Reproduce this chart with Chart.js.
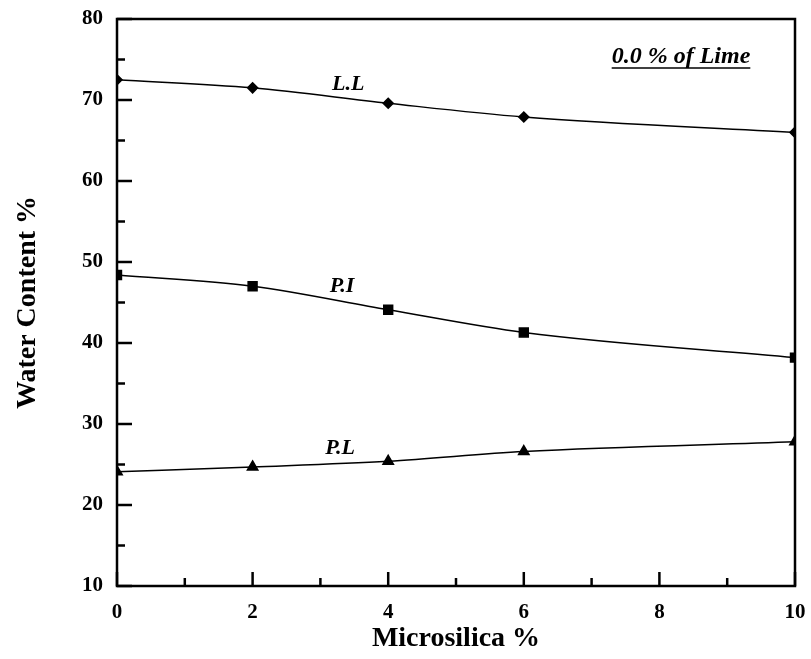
<!DOCTYPE html>
<html>
<head>
<meta charset="utf-8">
<script src="https://cdn.jsdelivr.net/npm/chart.js@4.4.1/dist/chart.umd.min.js"></script>
<style>
  html, body { margin: 0; padding: 0; background: #fff; }
  #wrap { width: 811px; height: 659px; }
</style>
</head>
<body>
<div id="wrap"><canvas id="chart"></canvas></div>
<script>
// Microsilica content (%) on the x axis
const microsilica = [0, 2, 4, 6, 10];

// water content (%) of each series
const liquidLimit = [72.5, 71.5, 69.6, 67.9, 66.0];
const plasticityIndex = [48.4, 47.0, 44.1, 41.3, 38.2];
const plasticLimit = [24.1, 24.7, 25.4, 26.6, 27.8];

const xTicks = [0, 2, 4, 6, 8, 10];
const yTicks = [10, 20, 30, 40, 50, 60, 70, 80];

// curve labels placed in data coordinates
const curveLabels = [
  { text: 'L.L', x: 3.41, y: 71.9 },
  { text: 'P.I', x: 3.32, y: 47.0 },
  { text: 'P.L', x: 3.29, y: 27.0 }
];

const FONT = "'Liberation Serif', 'Times New Roman', serif";

const toPoints = ys => microsilica.map((x, i) => ({ x, y: ys[i] }));

const series = (label, ys, style, radius) => ({
  label,
  data: toPoints(ys),
  showLine: true,
  borderColor: '#000',
  backgroundColor: '#000',
  borderWidth: 1.5,
  pointStyle: style,
  pointRadius: radius,
  tension: 0.4,
  cubicInterpolationMode: 'monotone'
});

// frame, inward ticks and text labels
const framePlugin = {
  id: 'frame',
  afterDraw(chart) {
    const { ctx, chartArea: a, scales: { x, y } } = chart;
    ctx.save();
    ctx.strokeStyle = '#000';
    ctx.lineWidth = 2.5;
    ctx.strokeRect(a.left, a.top, a.right - a.left, a.bottom - a.top);

    for (let v = 10; v <= 80; v += 5) {
      const py = y.getPixelForValue(v);
      const len = v % 10 === 0 ? 15 : 8;
      ctx.beginPath();
      ctx.moveTo(a.left, py);
      ctx.lineTo(a.left + len, py);
      ctx.stroke();
    }
    for (let v = 0; v <= 10; v += 1) {
      const px = x.getPixelForValue(v);
      const len = v % 2 === 0 ? 14 : 8;
      ctx.beginPath();
      ctx.moveTo(px, a.bottom);
      ctx.lineTo(px, a.bottom - len);
      ctx.stroke();
    }

    ctx.fillStyle = '#000';
    ctx.textAlign = 'center';
    ctx.textBaseline = 'middle';
    ctx.font = `italic bold 22px ${FONT}`;
    curveLabels.forEach(l => {
      ctx.fillText(l.text, x.getPixelForValue(l.x), y.getPixelForValue(l.y));
    });

    const note = '0.0 % of Lime';
    const nx = 681, ny = 57;
    ctx.font = `italic bold 24px ${FONT}`;
    ctx.fillText(note, nx, ny);
    const w = ctx.measureText(note).width;
    ctx.lineWidth = 1.5;
    ctx.beginPath();
    ctx.moveTo(nx - w / 2, ny + 11);
    ctx.lineTo(nx + w / 2, ny + 11);
    ctx.stroke();
    ctx.restore();
  }
};

new Chart(document.getElementById('chart'), {
  type: 'scatter',
  data: {
    datasets: [
      series('L.L', liquidLimit, 'rectRot', 5),
      series('P.I', plasticityIndex, 'rect', 6.3),
      series('P.L', plasticLimit, 'triangle', 6)
    ]
  },
  options: {
    responsive: true,
    maintainAspectRatio: false,
    animation: false,
    layout: { padding: { top: 19, right: 16, left: 0, bottom: 0 } },
    plugins: { legend: { display: false }, tooltip: { enabled: false } },
    scales: {
      x: {
        type: 'linear',
        min: 0,
        max: 10,
        afterBuildTicks: s => { s.ticks = xTicks.map(v => ({ value: v })); },
        afterFit: s => { s.height = 73; s.paddingLeft = 0; s.paddingRight = 0; },
        grid: { display: false, drawTicks: false },
        border: { display: false },
        ticks: { color: '#000', padding: 14, font: { family: FONT, size: 21, weight: 'bold' } },
        title: { display: true, text: 'Microsilica %', color: '#000', padding: { top: 0, bottom: 3 }, font: { family: FONT, size: 28, weight: 'bold' } }
      },
      y: {
        type: 'linear',
        min: 10,
        max: 80,
        afterBuildTicks: s => { s.ticks = yTicks.map(v => ({ value: v })); },
        afterFit: s => { s.width = 117; s.paddingTop = 0; s.paddingBottom = 0; },
        grid: { display: false, drawTicks: false },
        border: { display: false },
        ticks: { color: '#000', padding: 14, font: { family: FONT, size: 21, weight: 'bold' } },
        title: { display: true, text: 'Water Content %', color: '#000', padding: { top: 11, bottom: 0 }, font: { family: FONT, size: 28, weight: 'bold' } }
      }
    }
  },
  plugins: [framePlugin]
});
</script>
</body>
</html>
